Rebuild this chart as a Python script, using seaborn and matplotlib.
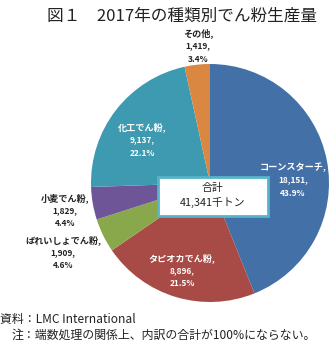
import matplotlib
matplotlib.use("Agg")
import matplotlib.pyplot as plt
from matplotlib.patches import Rectangle
import seaborn as sns

sns.set_theme(style="white")
plt.rcParams['font.family'] = ['Noto Sans CJK JP', 'DejaVu Sans']

categories = ["コーンスターチ", "タピオカでん粉", "ばれいしょでん粉", "小麦でん粉", "化工でん粉", "その他"]
values = [18151, 8896, 1909, 1829, 9137, 1419]
shares = ["43.9%", "21.5%", "4.6%", "4.4%", "22.1%", "3.4%"]
total_label = "41,341千トン"
colors = ["#4470A8", "#A84A46", "#89A84B", "#6E5597", "#3E9AB0", "#DA8841"]

W, H = 331, 344
fig = plt.figure(figsize=(W / 100, H / 100), dpi=100)
cx, cy, r = 210, 183, 119
ax = fig.add_axes([(cx - r) / W, (H - cy - r) / H, 2 * r / W, 2 * r / H])
ax.pie(values, colors=colors, startangle=90, counterclock=False,
       wedgeprops=dict(linewidth=0))
ax.set_xlim(-1, 1)
ax.set_ylim(-1, 1)
ax.set_aspect('equal')
ax.axis('off')

def px(x, y):
    return (x - cx) / r, (cy - y) / r

label_pos = [(293, 167), (182, 258), (63, 240), (65, 198), (142, 127), (198, 33)]
white = [True, True, False, False, True, False]
for cat, v, s, (lx, ly), w in zip(categories, values, shares, label_pos, white):
    col = "white" if w else "#222222"
    x, y = px(lx, ly)
    ax.text(x, y, cat + ",", ha="center", va="center", fontsize=6.6,
            fontweight="bold", color=col, clip_on=False)
    ax.text(x, y - 13 / r, f"{v:,},", ha="center", va="center", fontsize=6,
            fontweight="bold", color=col, clip_on=False)
    ax.text(x, y - 26 / r, s, ha="center", va="center", fontsize=6,
            fontweight="bold", color=col, clip_on=False)

x0, y0 = px(158, 216)
x1, y1 = px(268, 177)
ax.add_patch(Rectangle((x0, y0), x1 - x0, y1 - y0, facecolor="white",
                       edgecolor="#55B4C9", linewidth=2, zorder=5, clip_on=False))
bx, by = px(213, 196)
ax.text(bx, by, "合計\n" + total_label, ha="center", va="center", fontsize=7.8,
        color="#222222", linespacing=1.45, zorder=6)

fig.text(182 / W, 1 - 16 / H, "図１　2017年の種類別でん粉生産量", ha="center", va="center",
         fontsize=12, color="#222222")
fig.text(0.0, 1 - 320 / H, "資料：LMC International", ha="left", va="center",
         fontsize=8.6, color="#222222")
fig.text(12 / W, 1 - 335 / H, "注：端数処理の関係上、内訳の合計が100%にならない。", ha="left", va="center",
         fontsize=8.6, color="#222222")

fig.savefig("out.png", dpi=100)
